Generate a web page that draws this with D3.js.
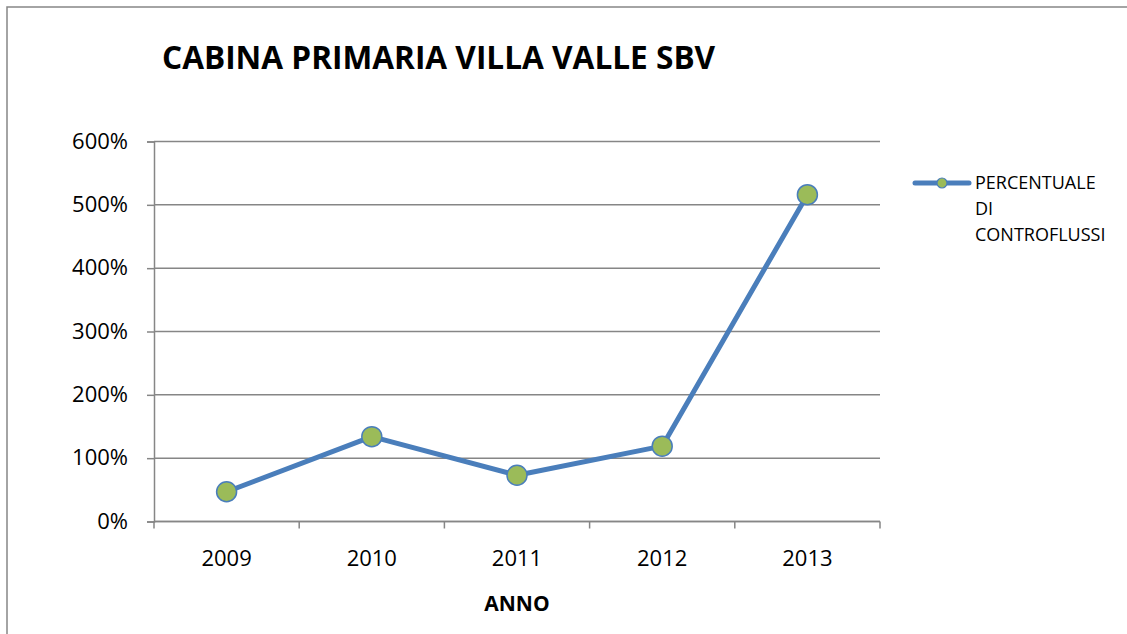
<!DOCTYPE html>
<html>
<head>
<meta charset="utf-8">
<script src="https://cdn.jsdelivr.net/npm/d3@7"></script>
<style>
  body { margin: 0; background: #fff; }
  text { font-family: "Open Sans", sans-serif; fill: #000; }
</style>
</head>
<body>
<div id="chart"></div>
<script>
const years = ["2009", "2010", "2011", "2012", "2013"];
const controflussi = [0.47, 1.34, 0.73, 1.19, 5.16];
const yTicks = [0, 1, 2, 3, 4, 5, 6];
const legendLines = ["PERCENTUALE", "DI", "CONTROFLUSSI"];

const W = 1127, H = 634;
const margin = {top: 141.5, right: 247, bottom: 112.5, left: 154};
const width = W - margin.left - margin.right,
    height = H - margin.top - margin.bottom;

const svg = d3.select("#chart").append("svg")
    .attr("width", W)
    .attr("height", H);

// outer chart border
svg.append("rect")
    .attr("x", 7).attr("y", 7)
    .attr("width", W + 10).attr("height", H + 10)
    .attr("fill", "none")
    .attr("stroke", "#868686")
    .attr("stroke-width", 1.5);

svg.append("text")
    .attr("x", 162).attr("y", 69)
    .attr("font-size", 31.6)
    .attr("font-weight", "bold")
    .text("CABINA PRIMARIA VILLA VALLE SBV");

const g = svg.append("g")
    .attr("transform", "translate(" + margin.left + "," + margin.top + ")");

const x = d3.scaleBand().domain(years).range([0, width]);
const y = d3.scaleLinear().domain([0, 6]).range([height, 0]);

// gridlines
g.append("g").selectAll("line").data(yTicks).enter().append("line")
    .attr("x1", 0).attr("x2", width)
    .attr("y1", d => y(d)).attr("y2", d => y(d))
    .attr("stroke", "#868686")
    .attr("stroke-width", 1.5);

// y axis
const yAxis = g.append("g")
    .call(d3.axisLeft(y).tickValues(yTicks).tickSize(7).tickPadding(19)
        .tickFormat(d => Math.round(d * 100) + "%"));
yAxis.attr("font-family", null).attr("font-size", null);
yAxis.select(".domain").attr("stroke", "#868686").attr("stroke-width", 1.5);
yAxis.selectAll(".tick line").attr("stroke", "#868686").attr("stroke-width", 1.5);
yAxis.selectAll("text").attr("font-size", 22).attr("fill", "#000").attr("dy", "0.3em");

// x axis, ticks on band boundaries
const xAxis = g.append("g").attr("transform", "translate(0," + height + ")");
xAxis.append("line")
    .attr("x1", 0).attr("x2", width)
    .attr("stroke", "#868686").attr("stroke-width", 1.5);
const bounds = years.map(d => x(d)).concat([width]);
xAxis.selectAll(".xt").data(bounds).enter().append("line")
    .attr("x1", d => d).attr("x2", d => d)
    .attr("y1", 0).attr("y2", 7)
    .attr("stroke", "#868686").attr("stroke-width", 1.5);
xAxis.selectAll(".xl").data(years).enter().append("text")
    .attr("x", d => x(d) + x.bandwidth() / 2)
    .attr("y", 44)
    .attr("text-anchor", "middle")
    .attr("font-size", 22)
    .text(d => d);

svg.append("text")
    .attr("x", 517).attr("y", 611)
    .attr("text-anchor", "middle")
    .attr("font-size", 21)
    .attr("font-weight", "bold")
    .text("ANNO");

// series
const line = d3.line()
    .x((d, i) => x(years[i]) + x.bandwidth() / 2)
    .y(d => y(d));

g.append("path")
    .datum(controflussi)
    .attr("d", line)
    .attr("fill", "none")
    .attr("stroke", "#4a7ebb")
    .attr("stroke-width", 5)
    .attr("stroke-linejoin", "round");

g.selectAll(".pt").data(controflussi).enter().append("circle")
    .attr("cx", (d, i) => x(years[i]) + x.bandwidth() / 2)
    .attr("cy", d => y(d))
    .attr("r", 10)
    .attr("fill", "#9bbb59")
    .attr("stroke", "#4a7ebb")
    .attr("stroke-width", 1.5);

// legend
const lg = svg.append("g").attr("transform", "translate(915,183)");
lg.append("line")
    .attr("x1", 0).attr("x2", 54)
    .attr("stroke", "#4a7ebb").attr("stroke-width", 5)
    .attr("stroke-linecap", "round");
lg.append("circle")
    .attr("cx", 27).attr("cy", 0).attr("r", 5)
    .attr("fill", "#9bbb59").attr("stroke", "#4a7ebb").attr("stroke-width", 1.2);
lg.selectAll("text").data(legendLines).enter().append("text")
    .attr("x", 60)
    .attr("y", (d, i) => 6 + i * 26)
    .attr("font-size", 18)
    .text(d => d);
</script>
</body>
</html>
